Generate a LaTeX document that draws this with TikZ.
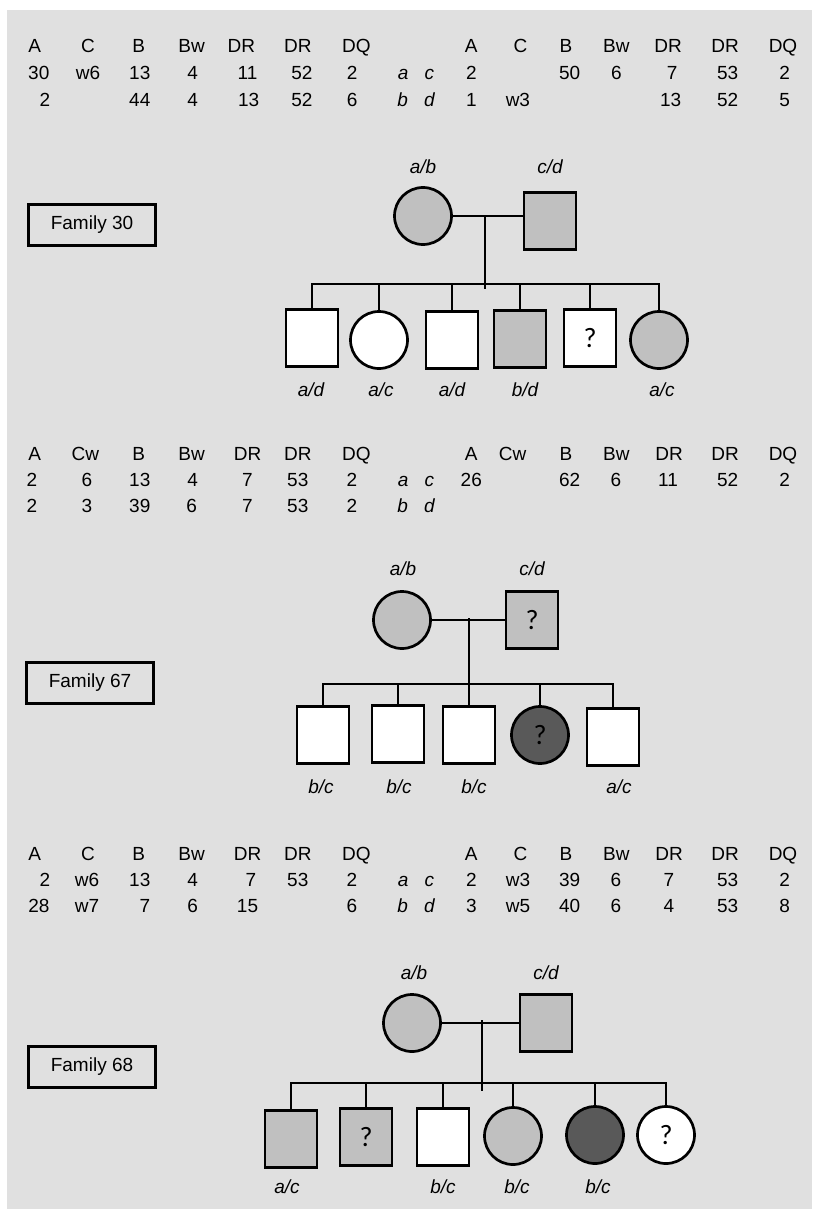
\documentclass[tikz,border=0pt]{standalone}
\usepackage{fontspec}
\setmainfont{Liberation Sans}
\newfontfamily\qfont{Carlito}
\definecolor{bggray}{HTML}{E0E0E0}
\definecolor{lightfill}{HTML}{C0C0C0}
\definecolor{darkfill}{HTML}{595959}
\begin{document}
\begin{tikzpicture}[x=1pt,y=-1pt,
  every node/.style={inner sep=0pt, outer sep=0pt},
  tab/.style={anchor=base, font=\fontsize{19}{23}\selectfont},
  itab/.style={anchor=base, font=\fontsize{19}{23}\selectfont\itshape},
  lab/.style={font=\fontsize{19}{23}\selectfont\itshape},
  person/.style={draw=black, line width=2.7pt, font=\qfont\fontsize{28}{30}\selectfont},
  male/.style={person, rectangle, minimum width=52pt, minimum height=57pt},
  female/.style={person, circle, minimum size=57pt},
  light/.style={fill=lightfill},
  dark/.style={fill=darkfill},
  blank/.style={fill=white},
  famline/.style={line width=2.7pt, line cap=rect},
  fambox/.style={draw, line width=2.7pt, minimum width=127pt, minimum height=41pt, font=\fontsize{19}{23}\selectfont},
]
\useasboundingbox (0,0) rectangle (812,1209);
\fill[white] (0,0) rectangle (812,1209);
\fill[bggray] (7,10) rectangle (812,1209);

% ---------- Section 1 table ----------
\foreach \x/\t [count=\i] in {34.7/A, 88/C, 138.8/B, 191.6/Bw, 241.3/DR, 297.8/DR, 356.3/DQ, 471.3/A, 520.5/C, 566/B, 616.3/Bw, 668/DR, 725/DR, 783/DQ}
  \node[tab] (ta\i) at (\x,53) {\t};
\foreach \x/\t [count=\i] in {38.8/30, 88/w6, 139.8/13, 192.6/4, 247.5/11, 301.9/52, 352.1/2, 471.3/2, 569.6/50, 616.3/6, 672.2/7, 727.6/53, 784.6/2}
  \node[tab] (tb\i) at (\x,80) {\t};
\foreach \x/\t [count=\i] in {45/2, 139.8/44, 192.6/4, 248.6/13, 301.9/52, 352.1/6, 471.3/1, 517.9/w3, 670.6/13, 727.6/52, 784.6/5}
  \node[tab] (tc\i) at (\x,107) {\t};
\node[itab] (ac1) at (416,80) {a\hspace{16pt}c};
\node[itab] (bd1) at (416,107) {b\hspace{16pt}d};

% ---------- Family 30 ----------
\node[fambox] (fam30) at (92,225) {Family 30};
\node[female, light] (m1) at (423,216) {};
\node[male, light] (f1) at (550,221) {};
\node[lab] (m1l) at (423,167) {a/b};
\node[lab] (f1l) at (550,167) {c/d};
\node[male, blank] (c11) at (312,338) {};
\node[female, blank] (c12) at (379,340) {};
\node[male, blank] (c13) at (452,340) {};
\node[male, light] (c14) at (520,339) {};
\node[male, blank] (c15) at (590,338) {?};
\node[female, light] (c16) at (659,340) {};
\node[lab] (c11l) at (311,390) {a/d};
\node[lab] (c12l) at (381,390) {a/c};
\node[lab] (c13l) at (452,390) {a/d};
\node[lab] (c14l) at (525,390) {b/d};
\node[lab] (c16l) at (662,390) {a/c};
\coordinate (v1) at (485,216);
\coordinate (v1b) at (485,288);
\coordinate (s1) at (0,284);
\draw[famline] (m1.east) -- (m1.east -| f1.west);
\draw[famline] (v1) -- (v1b);
\draw[famline] (c11.north |- s1) -- (c16.north |- s1);
\foreach \c in {c11,c12,c13,c14,c15,c16}
  \draw[famline] (\c.north |- s1) -- (\c.north);

% ---------- Section 2 table ----------
\foreach \x/\t [count=\i] in {34.7/A, 85.4/Cw, 138.8/B, 191.6/Bw, 247.5/DR, 297.8/DR, 356.3/DQ, 471.3/A, 512.7/Cw, 566/B, 616.3/Bw, 669/DR, 725/DR, 783/DQ}
  \node[tab] (ua\i) at (\x,460) {\t};
\foreach \x/\t [count=\i] in {32/2, 87/6, 139.8/13, 192.6/4, 247.5/7, 297.8/53, 352/2, 471.3/26, 569.6/62, 616/6, 668/11, 727.6/52, 784.6/2}
  \node[tab] (ub\i) at (\x,486) {\t};
\foreach \x/\t [count=\i] in {32/2, 87/3, 139.8/39, 191.6/6, 247.5/7, 297.8/53, 352/2}
  \node[tab] (uc\i) at (\x,512) {\t};
\node[itab] (ac2) at (416,486) {a\hspace{16pt}c};
\node[itab] (bd2) at (416,512) {b\hspace{16pt}d};

% ---------- Family 67 ----------
\node[fambox] (fam67) at (90,683) {Family 67};
\node[female, light] (m2) at (402,620) {};
\node[male, light] (f2) at (532,620) {?};
\node[lab] (m2l) at (403,569) {a/b};
\node[lab] (f2l) at (532,569) {c/d};
\node[male, blank] (c21) at (323,735) {};
\node[male, blank] (c22) at (398,734) {};
\node[male, blank] (c23) at (469,735) {};
\node[female, dark] (c24) at (540,735) {?};
\node[male, blank] (c25) at (613,737) {};
\node[lab] (c21l) at (321,787) {b/c};
\node[lab] (c22l) at (399,787) {b/c};
\node[lab] (c23l) at (474,787) {b/c};
\node[lab] (c25l) at (619,787) {a/c};
\coordinate (v2) at (469,619);
\coordinate (s2) at (0,684);
\draw[famline] (m2.east) -- (m2.east -| f2.west);
\draw[famline] (v2) -- (v2 |- s2);
\draw[famline] (c21.north |- s2) -- (c25.north |- s2);
\foreach \c in {c21,c22,c23,c24,c25}
  \draw[famline] (\c.north |- s2) -- (\c.north);

% ---------- Section 3 table ----------
\foreach \x/\t [count=\i] in {34.7/A, 88/C, 138.8/B, 191.6/Bw, 247.5/DR, 297.8/DR, 356.3/DQ, 471.3/A, 520.5/C, 566/B, 616.3/Bw, 669/DR, 725/DR, 783/DQ}
  \node[tab] (wa\i) at (\x,860) {\t};
\foreach \x/\t [count=\i] in {45/2, 87/w6, 139.8/13, 192.6/4, 251/7, 297.8/53, 352/2, 471.3/2, 518/w3, 569.6/39, 616/6, 669/7, 727.6/53, 784.6/2}
  \node[tab] (wb\i) at (\x,886) {\t};
\foreach \x/\t [count=\i] in {39/28, 87/w7, 145/7, 192.6/6, 247.5/15, 352/6, 471.3/3, 518/w5, 569.6/40, 616/6, 669/4, 727.6/53, 784.6/8}
  \node[tab] (wc\i) at (\x,912) {\t};
\node[itab] (ac3) at (416,886) {a\hspace{16pt}c};
\node[itab] (bd3) at (416,912) {b\hspace{16pt}d};

% ---------- Family 68 ----------
\node[fambox] (fam68) at (92,1067) {Family 68};
\node[female, light] (m3) at (412,1023) {};
\node[male, light] (f3) at (546,1023) {};
\node[lab] (m3l) at (414,973) {a/b};
\node[lab] (f3l) at (546,973) {c/d};
\node[male, light] (c31) at (291,1139) {};
\node[male, light] (c32) at (366,1137) {?};
\node[male, blank] (c33) at (443,1137) {};
\node[female, light] (c34) at (513,1136) {};
\node[female, dark] (c35) at (595,1135) {};
\node[female, blank] (c36) at (666,1135) {?};
\node[lab] (c31l) at (287,1187) {a/c};
\node[lab] (c33l) at (443,1187) {b/c};
\node[lab] (c34l) at (517,1187) {b/c};
\node[lab] (c35l) at (598,1187) {b/c};
\coordinate (v3) at (482,1021);
\coordinate (v3b) at (482,1090);
\coordinate (s3) at (0,1083);
\draw[famline] (m3.east) -- (m3.east -| f3.west);
\draw[famline] (v3) -- (v3b);
\draw[famline] (c31.north |- s3) -- (c36.north |- s3);
\foreach \c in {c31,c32,c33,c34,c35,c36}
  \draw[famline] (\c.north |- s3) -- (\c.north);
\end{tikzpicture}
\end{document}
